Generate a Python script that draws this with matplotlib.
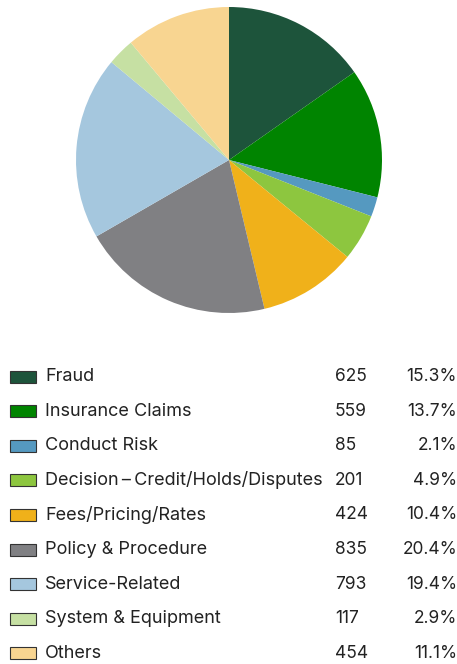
import matplotlib.pyplot as plt
from matplotlib.patches import Rectangle

categories = ['Fraud', 'Insurance Claims', 'Conduct Risk',
              'Decision\u2009\u2013\u2009Credit/Holds/Disputes', 'Fees/Pricing/Rates',
              'Policy & Procedure', 'Service-Related', 'System & Equipment', 'Others']
counts = [625, 559, 85, 201, 424, 835, 793, 117, 454]
percents = ['15.3%', '13.7%', '2.1%', '4.9%', '10.4%', '20.4%', '19.4%', '2.9%', '11.1%']
colors = ['#1d543b', '#008400', '#5599c0', '#8dc63f', '#f0b11a',
          '#808083', '#a5c7de', '#c6e0a3', '#f8d591']

plt.rcParams['font.family'] = ['Inter', 'DejaVu Sans']

W, H = 457, 664
fig = plt.figure(figsize=(W / 100, H / 100), dpi=100)

# pie
cx, cy, r = 229, 160, 153
ax = fig.add_axes([(cx - r) / W, (H - cy - r) / H, 2 * r / W, 2 * r / H])
ax.pie(counts, colors=colors, startangle=90, counterclock=False, radius=1,
       wedgeprops=dict(linewidth=0))
ax.set_xlim(-1, 1)
ax.set_ylim(-1, 1)
ax.set_aspect('equal')
ax.axis('off')

# legend table, pixel coordinates
lg = fig.add_axes([0, 0, 1, 1])
lg.set_xlim(0, W)
lg.set_ylim(H, 0)
lg.axis('off')
y0, dy = 376.5, 34.6
for i, (cat, n, p, c) in enumerate(zip(categories, counts, percents, colors)):
    y = y0 + i * dy
    lg.add_patch(Rectangle((10, y - 6), 26, 12, facecolor=c, edgecolor='#333333', linewidth=0.8))
    lg.text(45, y, cat, fontsize=13, va='center', ha='left', color='#222222')
    lg.text(335, y, str(n), fontsize=12.5, va='center', ha='left', color='#222222')
    lg.text(457, y, p, fontsize=12.5, va='center', ha='right', color='#222222')

fig.savefig('out.png', dpi=100)
